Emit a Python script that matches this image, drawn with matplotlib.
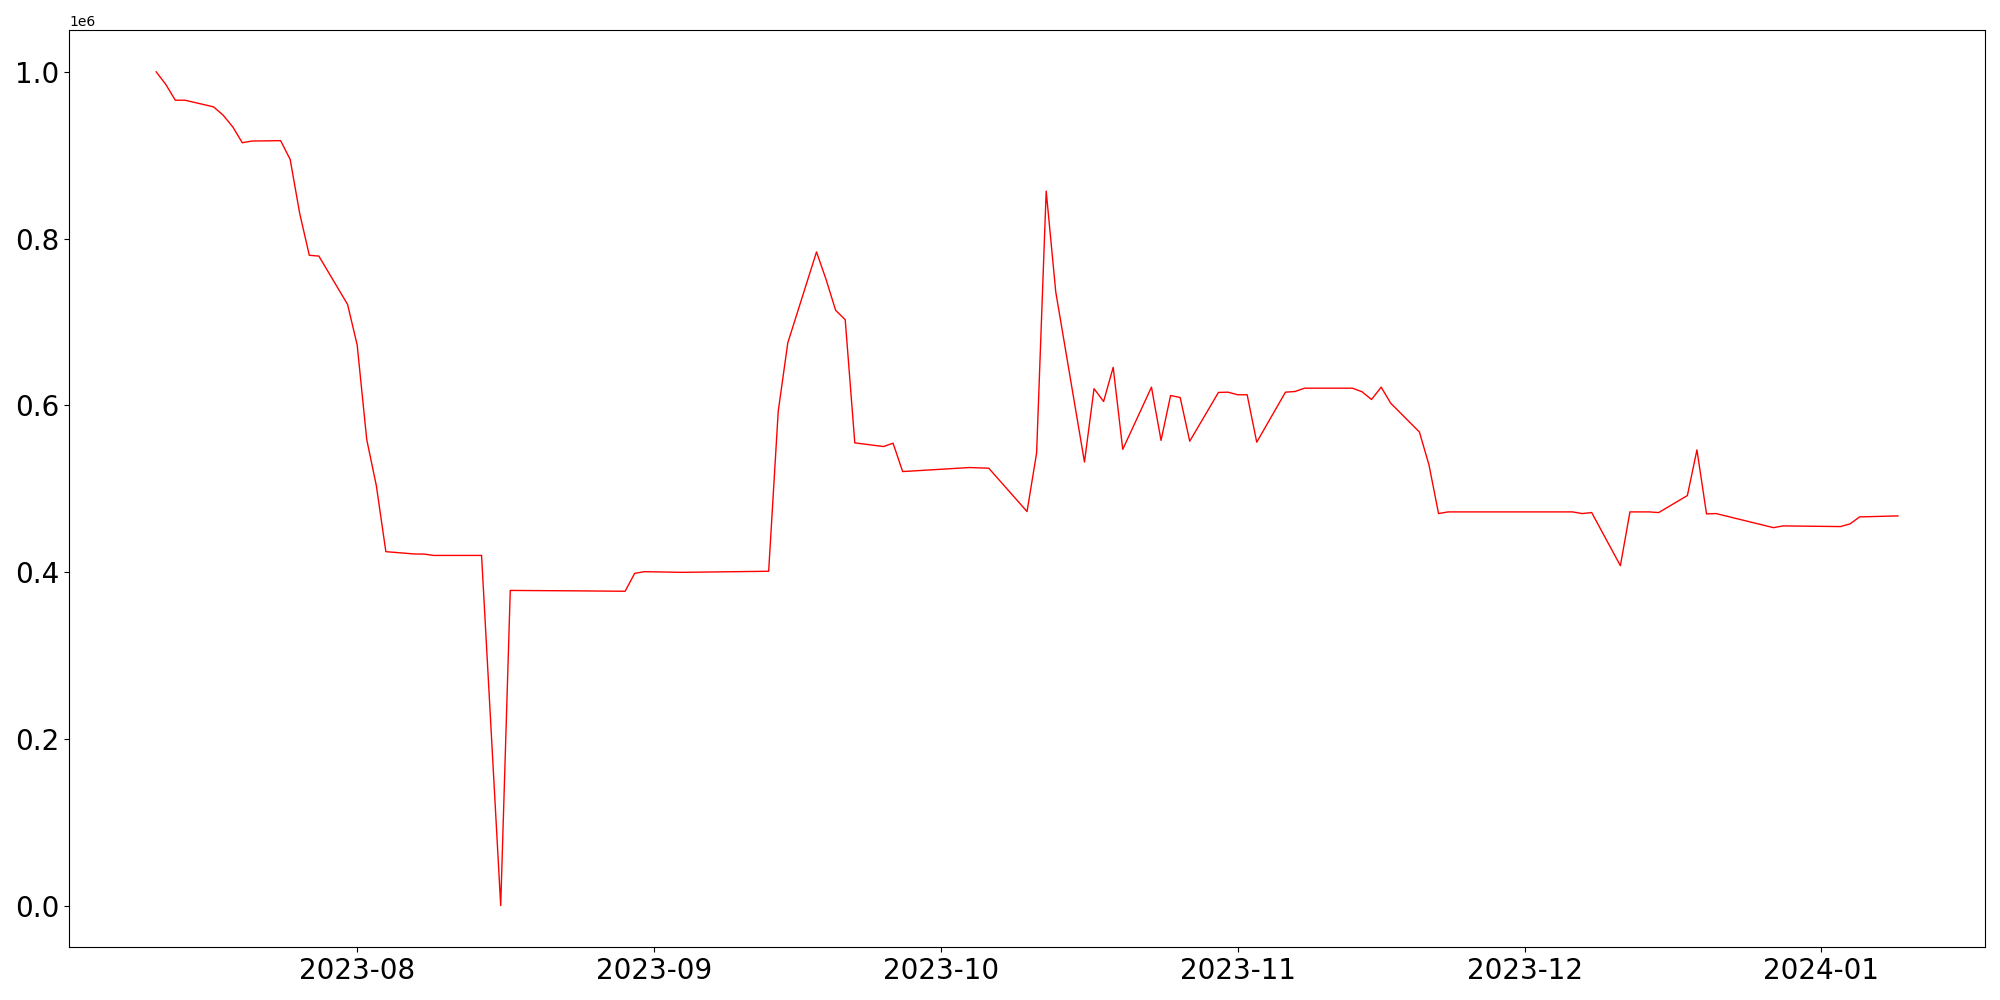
import pandas as pd
import matplotlib
matplotlib.use('Agg')
import matplotlib.pyplot as plt

# Portfolio value per trading day
dates = [
    '2023-07-11', '2023-07-12', '2023-07-13', '2023-07-14', '2023-07-17', '2023-07-18',
    '2023-07-19', '2023-07-20', '2023-07-21', '2023-07-24', '2023-07-25', '2023-07-26',
    '2023-07-27', '2023-07-28', '2023-07-31', '2023-08-01', '2023-08-02', '2023-08-03',
    '2023-08-04', '2023-08-07', '2023-08-08', '2023-08-09', '2023-08-14', '2023-08-16',
    '2023-08-17', '2023-08-24', '2023-08-29', '2023-08-30', '2023-08-31', '2023-09-04',
    '2023-09-13', '2023-09-14', '2023-09-15', '2023-09-18', '2023-09-19', '2023-09-20',
    '2023-09-21', '2023-09-22', '2023-09-25', '2023-09-26', '2023-09-27', '2023-10-04',
    '2023-10-06', '2023-10-10', '2023-10-11', '2023-10-12', '2023-10-13', '2023-10-16',
    '2023-10-17', '2023-10-18', '2023-10-19', '2023-10-20', '2023-10-23', '2023-10-24',
    '2023-10-25', '2023-10-26', '2023-10-27', '2023-10-30', '2023-10-31', '2023-11-01',
    '2023-11-02', '2023-11-03', '2023-11-06', '2023-11-07', '2023-11-08', '2023-11-13',
    '2023-11-14', '2023-11-15', '2023-11-16', '2023-11-17', '2023-11-20', '2023-11-21',
    '2023-11-22', '2023-11-23', '2023-12-06', '2023-12-07', '2023-12-08', '2023-12-11',
    '2023-12-12', '2023-12-14', '2023-12-15', '2023-12-18', '2023-12-19', '2023-12-20',
    '2023-12-21', '2023-12-27', '2023-12-28', '2024-01-03', '2024-01-04', '2024-01-05',
    '2024-01-09',
]
values = [
    1.0000, 0.9850, 0.9660, 0.9660, 0.9580, 0.9480,
    0.9340, 0.9150, 0.9170, 0.9175, 0.8950, 0.8300,
    0.7800, 0.7790, 0.7210, 0.6726, 0.5590, 0.5040,
    0.4245, 0.4217, 0.4216, 0.4200, 0.4200, 0.0000,
    0.3780, 0.3775, 0.3770, 0.3985, 0.4005, 0.3997,
    0.4010, 0.5930, 0.6750, 0.7840, 0.7510, 0.7140,
    0.7027, 0.5550, 0.5506, 0.5546, 0.5206, 0.5254,
    0.5246, 0.4726, 0.5430, 0.8570, 0.7360, 0.5320,
    0.6200, 0.6046, 0.6456, 0.5472, 0.6218, 0.5580,
    0.6118, 0.6094, 0.5570, 0.6155, 0.6158, 0.6127,
    0.6127, 0.5558, 0.6158, 0.6166, 0.6206, 0.6206,
    0.6163, 0.6070, 0.6218, 0.6026, 0.5680, 0.5285,
    0.4702, 0.4722, 0.4722, 0.4702, 0.4714, 0.4077,
    0.4722, 0.4722, 0.4714, 0.4918, 0.5466, 0.4698,
    0.4702, 0.4533, 0.4554, 0.4546, 0.4578, 0.4662,
    0.4674,
]

df = pd.DataFrame({'date': pd.to_datetime(dates), 'value': [v * 1e6 for v in values]})

plt.figure(figsize=(20, 10))
plt.plot(df['date'], df['value'], color='red', linewidth=1)
plt.xticks(fontsize=20)
plt.yticks(fontsize=20)
plt.tight_layout()
plt.savefig('out.png', dpi=100)
